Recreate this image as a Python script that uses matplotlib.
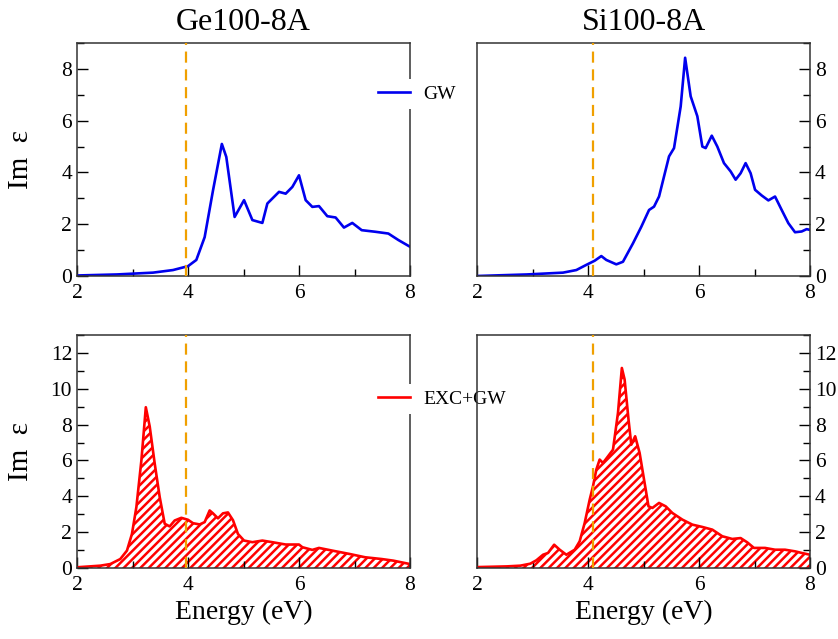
import numpy as np
import matplotlib
matplotlib.use("Agg")
import matplotlib.pyplot as plt
from matplotlib.ticker import MultipleLocator

# --- datos ---
ge_gw_e = [2.0, 2.72, 3.37, 3.73, 4.0, 4.15, 4.3, 4.45, 4.61, 4.69, 4.84, 5.01, 5.16, 5.34,
           5.43, 5.64, 5.76, 5.88, 6.0, 6.12, 6.24, 6.36, 6.51, 6.66, 6.81, 6.96, 7.13,
           7.37, 7.61, 7.79, 8.0]
ge_gw_im = [0.02, 0.06, 0.13, 0.23, 0.38, 0.62, 1.5, 3.3, 5.1, 4.6, 2.28, 2.93, 2.16, 2.05,
            2.8, 3.25, 3.18, 3.44, 3.89, 2.93, 2.67, 2.7, 2.31, 2.26, 1.87, 2.05, 1.77,
            1.71, 1.64, 1.39, 1.13]

si_gw_e = [2.0, 2.9, 3.55, 3.79, 3.97, 4.12, 4.24, 4.33, 4.51, 4.63, 4.81, 4.96, 5.1, 5.19,
           5.28, 5.46, 5.55, 5.67, 5.75, 5.85, 5.97, 6.06, 6.12, 6.23, 6.33, 6.45, 6.57,
           6.66, 6.75, 6.84, 6.93, 7.01, 7.13, 7.25, 7.37, 7.49, 7.61, 7.73, 7.85, 7.94, 8.0]
si_gw_im = [0.0, 0.06, 0.13, 0.23, 0.43, 0.59, 0.77, 0.62, 0.45, 0.55, 1.26, 1.9, 2.55, 2.68,
            3.07, 4.62, 4.94, 6.55, 8.43, 6.94, 6.17, 5.0, 4.94, 5.42, 5.0, 4.36, 4.04,
            3.72, 3.97, 4.36, 3.97, 3.33, 3.11, 2.92, 3.07, 2.55, 2.04, 1.69, 1.72, 1.81, 1.78]

ge_exc_e = [2.0, 2.42, 2.6, 2.78, 2.9, 2.99, 3.07, 3.16, 3.24, 3.31, 3.4, 3.49, 3.58, 3.67,
            3.76, 3.88, 4.0, 4.09, 4.21, 4.3, 4.39, 4.45, 4.54, 4.63, 4.72, 4.81, 4.9,
            5.01, 5.16, 5.34, 5.52, 5.76, 6.0, 6.06, 6.24, 6.36, 6.6, 6.9, 7.19, 7.49,
            7.7, 8.0]
ge_exc_im = [0.04, 0.13, 0.22, 0.5, 0.97, 1.9, 3.4, 6.0, 8.97, 7.9, 5.83, 3.96, 2.47, 2.32,
             2.65, 2.8, 2.69, 2.5, 2.43, 2.56, 3.21, 3.05, 2.77, 3.05, 3.1, 2.67, 1.9,
             1.53, 1.44, 1.53, 1.44, 1.31, 1.31, 1.16, 1.01, 1.12, 0.97, 0.79, 0.6, 0.5,
             0.41, 0.22]

si_exc_e = [2.0, 2.54, 2.78, 2.96, 3.07, 3.19, 3.28, 3.39, 3.49, 3.61, 3.76, 3.85, 3.94,
            4.03, 4.09, 4.15, 4.21, 4.27, 4.36, 4.45, 4.54, 4.61, 4.66, 4.73, 4.78, 4.85,
            4.93, 5.01, 5.09, 5.16, 5.28, 5.4, 5.52, 5.7, 5.88, 6.06, 6.24, 6.42, 6.6,
            6.75, 6.87, 6.99, 7.19, 7.37, 7.55, 7.73, 7.85, 8.0]
si_exc_im = [0.05, 0.09, 0.13, 0.24, 0.43, 0.74, 0.84, 1.3, 1.02, 0.74, 1.02, 1.49, 2.51,
             3.81, 4.56, 5.49, 6.05, 5.86, 6.23, 6.6, 8.65, 11.16, 10.51, 8.28, 6.88, 7.35,
             6.42, 4.93, 3.44, 3.35, 3.63, 3.44, 3.07, 2.7, 2.42, 2.29, 2.14, 1.77, 1.62,
             1.67, 1.43, 1.12, 1.12, 1.02, 1.02, 0.93, 0.84, 0.74]

gap_ge = 3.97
gap_si = 4.09
titulos = ["Ge100-8A", "Si100-8A"]

plt.rcParams['font.family'] = ['Liberation Serif', 'DejaVu Serif']
plt.rcParams['hatch.linewidth'] = 1.8
plt.rcParams['hatch.color'] = 'red'

fig = plt.figure(figsize=(8.38, 6.39), dpi=100)
w, h = 333 / 838, 233 / 639
ax_tl = fig.add_axes([77 / 838, 1 - 276 / 639, w, h])
ax_tr = fig.add_axes([477 / 838, 1 - 276 / 639, w, h])
ax_bl = fig.add_axes([77 / 838, 1 - 568 / 639, w, h])
ax_br = fig.add_axes([477 / 838, 1 - 568 / 639, w, h])

azul = '#0000ee'
naranja = '#f0a000'

l_gw, = ax_tl.plot(ge_gw_e, ge_gw_im, color=azul, lw=1.9, label='GW')
ax_tr.plot(si_gw_e, si_gw_im, color=azul, lw=1.9)

for ax, e, im in [(ax_bl, ge_exc_e, ge_exc_im), (ax_br, si_exc_e, si_exc_im)]:
    ax.fill_between(e, im, 0, facecolor='white', edgecolor='red', hatch='////', lw=0)
l_exc, = ax_bl.plot(ge_exc_e, ge_exc_im, color='red', lw=1.9, label='EXC+GW')
ax_br.plot(si_exc_e, si_exc_im, color='red', lw=1.9)

for ax, g in [(ax_tl, gap_ge), (ax_bl, gap_ge), (ax_tr, gap_si), (ax_br, gap_si)]:
    ax.axvline(g, color=naranja, lw=1.6, dashes=(5, 3), zorder=5)

for ax in [ax_tl, ax_tr, ax_bl, ax_br]:
    ax.set_xlim(2, 8)
    ax.xaxis.set_major_locator(MultipleLocator(2))
    ax.xaxis.set_minor_locator(MultipleLocator(1))
    ax.yaxis.set_minor_locator(MultipleLocator(1))
    ax.tick_params(which='both', direction='in', labelsize=15.5, top=False)
    ax.tick_params(which='major', length=8, width=1)
    ax.tick_params(which='minor', length=5, width=1)
    ax.tick_params(axis='x', pad=6)
    for s in ax.spines.values():
        s.set_color('#333333')
        s.set_linewidth(1.1)

for ax in [ax_tl, ax_tr]:
    ax.set_ylim(0, 9)
    ax.yaxis.set_major_locator(MultipleLocator(2))
for ax in [ax_bl, ax_br]:
    ax.set_ylim(0, 13)
    ax.yaxis.set_major_locator(MultipleLocator(2))
    ax.set_xlabel('Energy (eV)', fontsize=20, labelpad=3)

for ax in [ax_tr, ax_br]:
    ax.yaxis.tick_right()
    ax.tick_params(which='both', left=False, right=True)
    ax.patch.set_visible(False)

for ax in [ax_tl, ax_bl]:
    ax.tick_params(which='both', right=False)
    ax.set_ylabel('Im  ε', fontsize=21)
    ax.yaxis.set_label_coords(-0.13, 0.5)

ax_tl.set_title(titulos[0], fontsize=23, pad=9)
ax_tr.set_title(titulos[1], fontsize=23, pad=9)

ax_tl.legend(handles=[l_gw], loc='center left', bbox_to_anchor=((372 - 77) / 333, (276 - 94) / 233),
             frameon=True, facecolor='white', edgecolor='none', framealpha=1, fancybox=False,
             fontsize=14, handlelength=1.65, handletextpad=0.67, borderpad=0.3, borderaxespad=0)
ax_bl.legend(handles=[l_exc], loc='center left', bbox_to_anchor=((372 - 77) / 333, (568 - 399) / 233),
             frameon=True, facecolor='white', edgecolor='none', framealpha=1, fancybox=False,
             fontsize=14, handlelength=1.65, handletextpad=0.67, borderpad=0.3, borderaxespad=0)

fig.savefig('out.png', dpi=100)
